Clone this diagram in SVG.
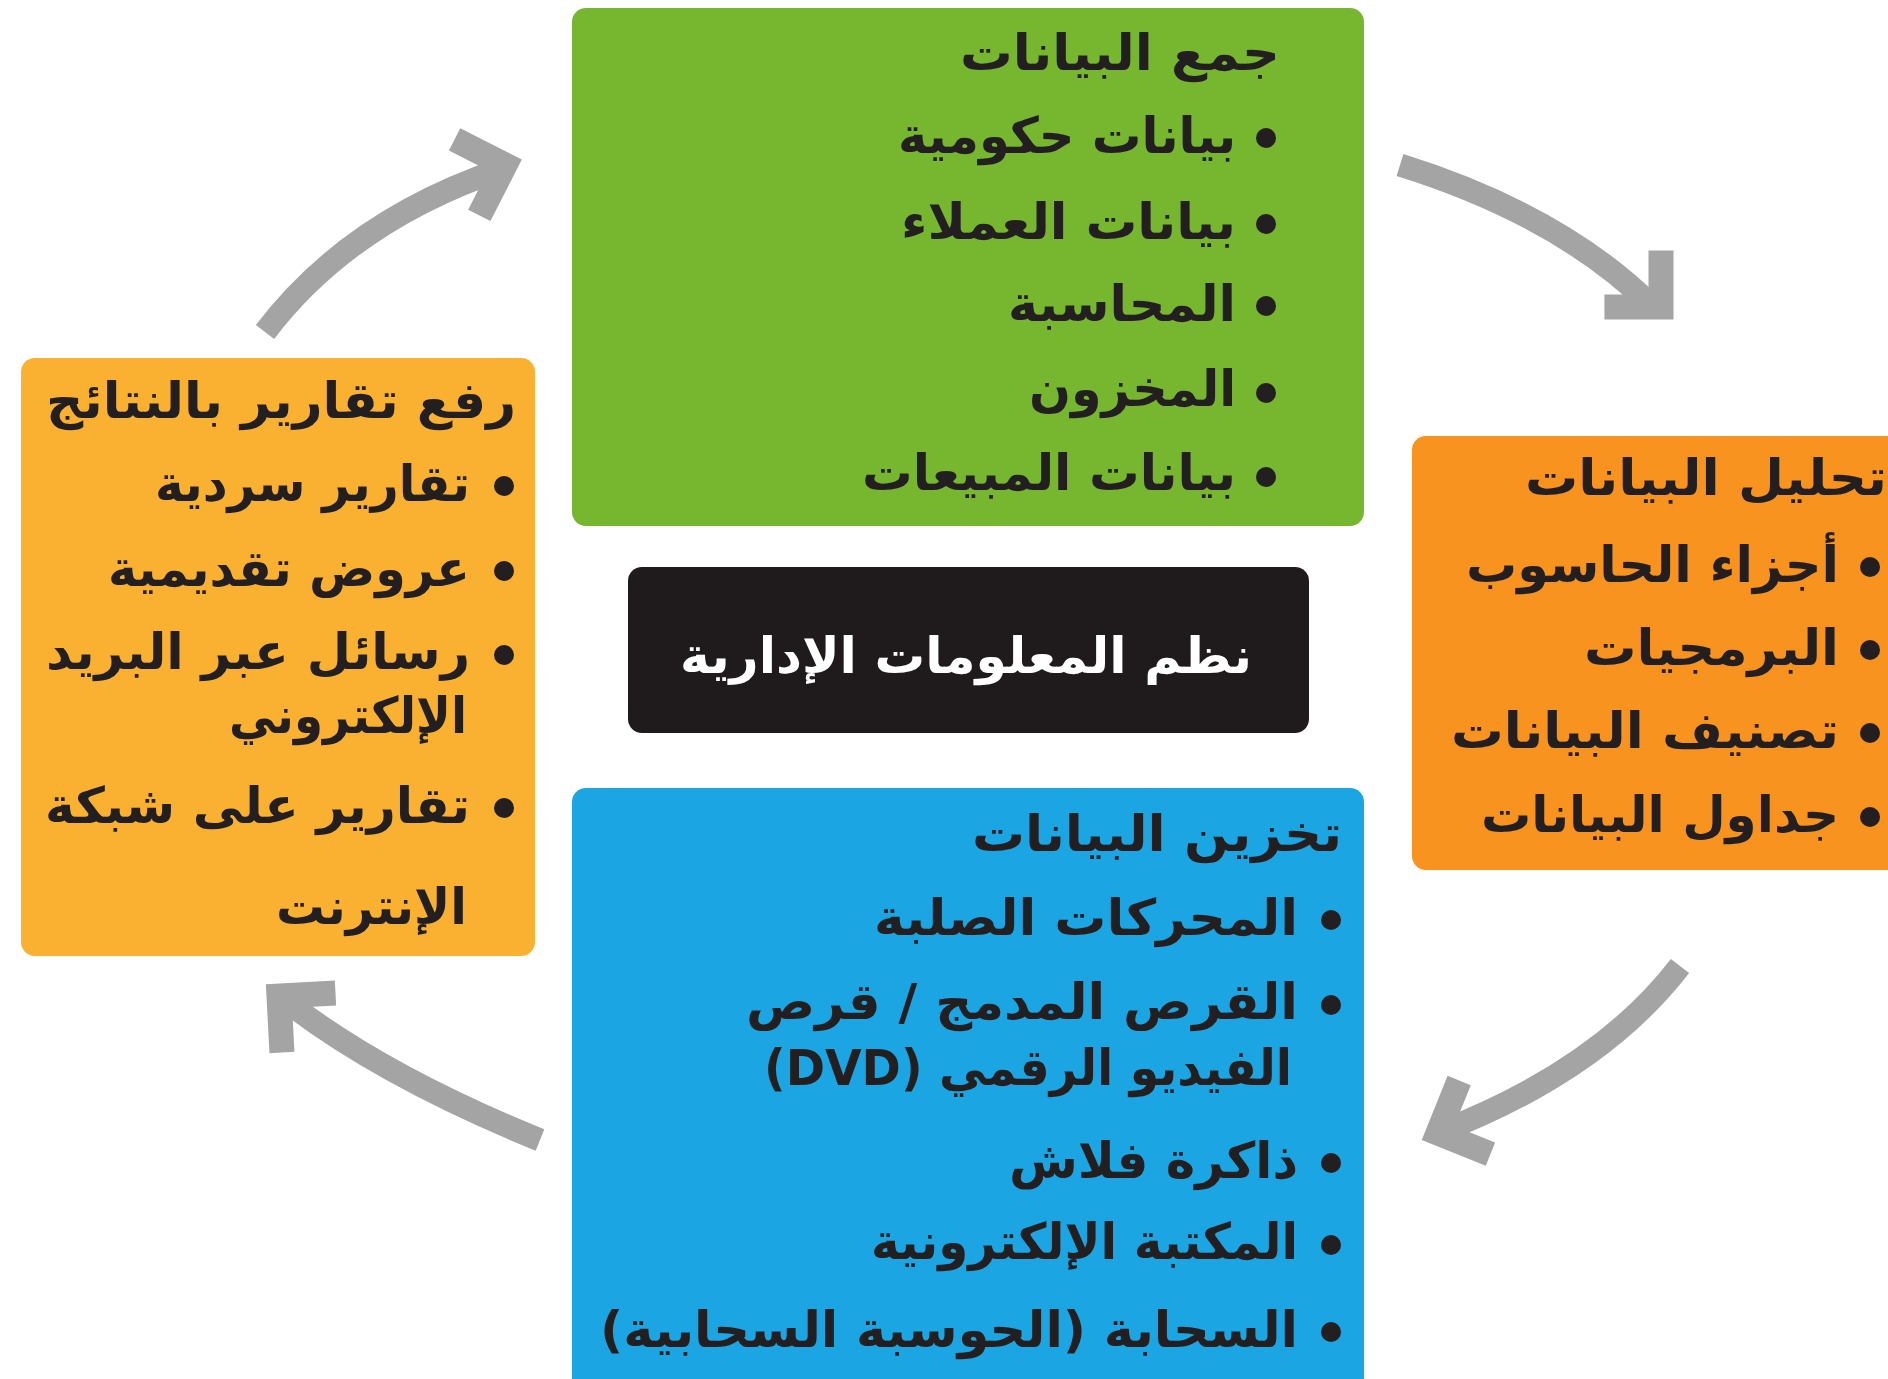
<svg xmlns="http://www.w3.org/2000/svg" width="1888" height="1379" viewBox="0 0 1888 1379">
<style>
.t{font-family:"DejaVu Sans",sans-serif;font-weight:bold;font-size:50px;fill:#231F20;direction:rtl;text-anchor:start}
.w{fill:#FFFFFF}
.b{fill:#231F20}
.shaft{fill:none;stroke:#A4A4A4;stroke-width:23}
.head{fill:none;stroke:#A4A4A4;stroke-width:25;stroke-linejoin:miter;stroke-linecap:butt}
</style>
<rect width="1888" height="1379" fill="#FFFFFF"/>
<g id="connectors">
<path class="shaft" d="M1400,165 Q1560,215 1652,306"/>
<polyline class="head" points="-40,-40 0,0 -40,40" transform="translate(1661,307) rotate(45)"/>
<path class="shaft" d="M1680,966 Q1600,1070 1440,1132"/>
<polyline class="head" points="-40,-40 0,0 -40,40" transform="translate(1438,1133) rotate(157)"/>
<path class="shaft" d="M540,1140 Q380,1075 282,998"/>
<polyline class="head" points="-40,-40 0,0 -40,40" transform="translate(279,996) rotate(222)"/>
<path class="shaft" d="M265,332 Q350,220 505,168"/>
<polyline class="head" points="-40,-40 0,0 -40,40" transform="translate(505,165) rotate(-18)"/>
</g>
<g id="collect">
<rect x="572" y="8" width="792" height="518" rx="14" fill="#77B72F"/>
<text class="t" x="1280" y="70" textLength="320" lengthAdjust="spacingAndGlyphs">جمع البيانات</text>
<circle class="b" cx="1266" cy="138" r="10"/><text class="t" x="1236" y="153" textLength="338" lengthAdjust="spacingAndGlyphs">بيانات حكومية</text>
<circle class="b" cx="1266" cy="224" r="10"/><text class="t" x="1236" y="239" textLength="335" lengthAdjust="spacingAndGlyphs">بيانات العملاء</text>
<circle class="b" cx="1266" cy="306" r="10"/><text class="t" x="1236" y="321" textLength="228" lengthAdjust="spacingAndGlyphs">المحاسبة</text>
<circle class="b" cx="1266" cy="393" r="10"/><text class="t" x="1236" y="406" textLength="207" lengthAdjust="spacingAndGlyphs">المخزون</text>
<circle class="b" cx="1266" cy="477" r="10"/><text class="t" x="1236" y="490" textLength="374" lengthAdjust="spacingAndGlyphs">بيانات المبيعات</text>
</g>
<g id="analyze">
<rect x="1412" y="436" width="500" height="434" rx="14" fill="#F7931E"/>
<text class="t" x="1887" y="495" textLength="362" lengthAdjust="spacingAndGlyphs">تحليل البيانات</text>
<circle class="b" cx="1870" cy="567" r="10"/><text class="t" x="1839" y="582" textLength="373" lengthAdjust="spacingAndGlyphs">أجزاء الحاسوب</text>
<circle class="b" cx="1870" cy="650" r="10"/><text class="t" x="1839" y="665" textLength="255" lengthAdjust="spacingAndGlyphs">البرمجيات</text>
<circle class="b" cx="1870" cy="733" r="10"/><text class="t" x="1839" y="748" textLength="388" lengthAdjust="spacingAndGlyphs">تصنيف البيانات</text>
<circle class="b" cx="1870" cy="817" r="10"/><text class="t" x="1839" y="832" textLength="358" lengthAdjust="spacingAndGlyphs">جداول البيانات</text>
</g>
<g id="store">
<rect x="572" y="788" width="792" height="620" rx="14" fill="#1BA6E3"/>
<text class="t" x="1342" y="851" textLength="370" lengthAdjust="spacingAndGlyphs">تخزين البيانات</text>
<circle class="b" cx="1331" cy="920" r="10"/><text class="t" x="1298" y="935" textLength="424" lengthAdjust="spacingAndGlyphs">المحركات الصلبة</text>
<circle class="b" cx="1331" cy="1005" r="10"/><text class="t" x="1298" y="1019" textLength="552" lengthAdjust="spacingAndGlyphs">القرص المدمج / قرص</text>
<text class="t" x="1292" y="1085" textLength="528" lengthAdjust="spacingAndGlyphs">الفيديو الرقمي (DVD)</text>
<circle class="b" cx="1331" cy="1163" r="10"/><text class="t" x="1298" y="1178" textLength="289" lengthAdjust="spacingAndGlyphs">ذاكرة فلاش</text>
<circle class="b" cx="1331" cy="1245" r="10"/><text class="t" x="1298" y="1259" textLength="427" lengthAdjust="spacingAndGlyphs">المكتبة الإلكترونية</text>
<circle class="b" cx="1331" cy="1332" r="10"/><text class="t" x="1298" y="1347" textLength="698" lengthAdjust="spacingAndGlyphs">السحابة (الحوسبة السحابية)</text>
</g>
<g id="report">
<rect x="21" y="358" width="514" height="598" rx="14" fill="#FAB131"/>
<text class="t" x="516" y="418" textLength="470" lengthAdjust="spacingAndGlyphs">رفع تقارير بالنتائج</text>
<circle class="b" cx="504" cy="486" r="10"/><text class="t" x="470" y="501" textLength="315" lengthAdjust="spacingAndGlyphs">تقارير سردية</text>
<circle class="b" cx="504" cy="571" r="10"/><text class="t" x="470" y="586" textLength="362" lengthAdjust="spacingAndGlyphs">عروض تقديمية</text>
<circle class="b" cx="504" cy="655" r="10"/><text class="t" x="470" y="669" textLength="424" lengthAdjust="spacingAndGlyphs">رسائل عبر البريد</text>
<text class="t" x="467" y="733" textLength="238" lengthAdjust="spacingAndGlyphs">الإلكتروني</text>
<circle class="b" cx="504" cy="808" r="10"/><text class="t" x="470" y="823" textLength="425" lengthAdjust="spacingAndGlyphs">تقارير على شبكة</text>
<text class="t" x="467" y="924" textLength="191" lengthAdjust="spacingAndGlyphs">الإنترنت</text>
</g>
<g id="center">
<rect x="628" y="567" width="681" height="166" rx="14" fill="#1F1B1C"/>
<text class="t w" x="1252" y="673" textLength="572" lengthAdjust="spacingAndGlyphs">نظم المعلومات الإدارية</text>
</g>
</svg>
